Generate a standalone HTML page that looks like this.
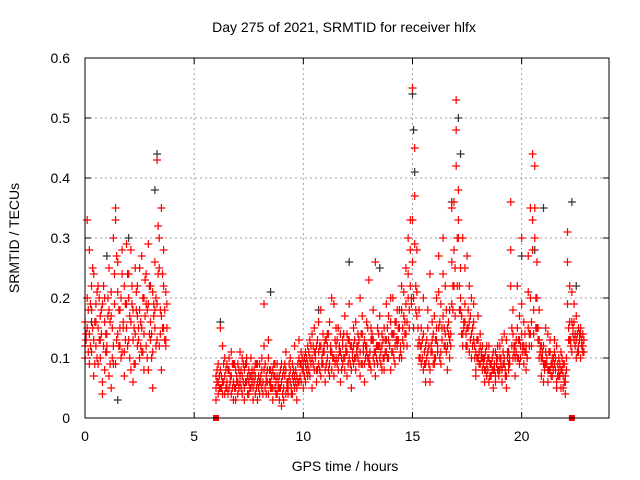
<!DOCTYPE html>
<html><head><meta charset="utf-8"><style>
html,body{margin:0;padding:0;background:#fff}
svg{display:block;font-family:"Liberation Sans",sans-serif}
</style></head><body>
<svg id="chart" width="640" height="480">
<text x="344" y="32" font-size="14" text-anchor="middle">Day 275 of 2021, SRMTID for receiver hlfx</text>
<text x="345" y="471" font-size="14" text-anchor="middle">GPS time / hours</text>
<text x="19" y="238" font-size="14" text-anchor="middle" transform="rotate(-90 19 238)">SRMTID / TECUs</text>
<g id="grid"></g><g id="axes"></g><g id="marks"></g>
<rect x="85" y="58" width="524" height="360" fill="none" stroke="#000" stroke-width="1"/>
</svg>
<script>
const xTicks=[0,5,10,15,20];
const yTicks=[0,0.1,0.2,0.3,0.4,0.5,0.6];
const yTickLabels=["0","0.1","0.2","0.3","0.4","0.5","0.6"];
const hours=[0,0.1,0.2,0.3,0.4,0.5,0.6,0.7,0.8,0.9,1,1.1,1.2,1.3,1.4,1.5,1.6,1.7,1.8,1.9,2,2.1,2.2,2.3,2.4,2.5,2.6,2.7,2.8,2.9,3,3.1,3.2,3.3,3.4,3.5,3.6,3.7,
6,6.1,6.2,6.3,6.4,6.5,6.6,6.7,6.8,6.9,7,7.1,7.2,7.3,7.4,7.5,7.6,7.7,7.8,7.9,8,8.1,8.2,8.3,8.4,8.5,8.6,8.7,8.8,8.9,9,9.1,9.2,9.3,9.4,9.5,9.6,9.7,9.8,9.9,10,
10.1,10.2,10.3,10.4,10.5,10.6,10.7,10.8,10.9,11,11.1,11.2,11.3,11.4,11.5,11.6,11.7,11.8,11.9,12,12.1,12.2,12.3,12.4,12.5,12.6,12.7,12.8,12.9,13,13.1,13.2,13.3,13.4,13.5,13.6,13.7,13.8,13.9,14,14.1,14.2,14.3,14.4,14.5,14.6,14.7,14.8,14.9,
15,15.1,15.2,15.3,15.4,15.5,15.6,15.7,15.8,15.9,16,16.1,16.2,16.3,16.4,16.5,16.6,16.7,16.8,16.9,17,17.1,17.2,17.3,17.4,17.5,17.6,17.7,17.8,17.9,18,18.1,18.2,18.3,18.4,18.5,18.6,18.7,18.8,18.9,19,19.1,19.2,19.3,19.4,19.5,19.6,19.7,19.8,19.9,20,20.1,20.2,20.3,20.4,20.5,20.6,20.7,20.8,20.9,21,21.1,21.2,21.3,21.4,21.5,21.6,21.7,21.8,21.9,22,22.1,22.2,22.3,22.4,22.5,22.6,22.7,22.8];
const redA=[.12,.15,.28,.18,.13,.16,.22,.10,.19,.08,.14,.25,.17,.12,.33,.21,.15,.28,.11,.19,.24,.16,.13,.09,.22,.18,.27,.14,.12,.19,.16,.21,.15,.43,.30,.17,.22,.21,
.05,.06,.08,.04,.07,.09,.05,.11,.06,.08,.04,.07,.10,.05,.06,.08,.05,.07,.04,.06,.09,.05,.19,.07,.04,.06,.08,.05,.07,.03,.06,.05,.08,.04,.06,.09,.05,.07,.10,.06,.08,
.09,.12,.07,.10,.15,.08,.11,.18,.09,.13,.10,.16,.08,.19,.12,.10,.14,.09,.17,.11,.13,.08,.12,.16,.10,.20,.09,.13,.11,.23,.15,.10,.26,.12,.17,.14,.10,.19,.13,.16,.20,.12,.18,.15,.22,.17,.25,.30,.33,
.55,.37,.28,.18,.12,.20,.09,.15,.24,.11,.17,.13,.27,.19,.30,.22,.12,.18,.35,.28,.53,.38,.25,.30,.19,.27,.16,.20,.13,.11,.17,.14,.10,.08,.12,.06,.09,.11,.07,.10,.08,.13,.09,.07,.11,.36,.14,.10,.22,.13,.30,.16,.11,.27,.20,.44,.35,.26,.18,.12,.09,.15,.08,.11,.07,.13,.06,.10,.08,.05,.07,.31,.22,.16,.19,.13,.15,.14,.12];
const redB=[.10,.20,.14,.11,.24,.12,.09,.17,.06,.20,.12,.07,.21,.30,.09,.14,.18,.11,.22,.29,.13,.08,.18,.25,.12,.10,.15,.20,.24,.08,.13,.11,.26,.19,.12,.35,.15,.13,
.03,.09,.05,.12,.04,.06,.10,.07,.03,.05,.09,.06,.04,.08,.10,.04,.07,.05,.09,.03,.06,.08,.12,.04,.10,.05,.03,.07,.09,.05,.02,.08,.04,.06,.10,.04,.07,.03,.06,.11,.09,
.06,.09,.13,.05,.08,.12,.16,.07,.11,.06,.14,.09,.20,.07,.10,.15,.06,.12,.08,.14,.10,.05,.15,.08,.12,.07,.14,.09,.16,.10,.08,.13,.07,.15,.10,.12,.08,.13,.10,.20,.14,.09,.12,.18,.10,.21,.14,.20,.28,
.33,.45,.21,.13,.09,.14,.06,.11,.08,.16,.09,.20,.15,.11,.24,.14,.08,.13,.19,.36,.48,.30,.18,.14,.25,.12,.22,.10,.16,.08,.13,.09,.12,.06,.09,.10,.07,.05,.11,.08,.12,.06,.10,.13,.09,.28,.10,.07,.15,.09,.19,.12,.08,.21,.14,.33,.42,.20,.13,.10,.06,.11,.14,.08,.10,.09,.12,.07,.05,.09,.06,.26,.16,.21,.13,.17,.11,.10,.14];
const redC=[.16,.33,.09,.22,.07,.19,.15,.13,.04,.16,.11,.18,.05,.09,.35,.26,.12,.24,.07,.15,.20,.28,.06,.14,.17,.25,.11,.08,.19,.29,.22,.05,.18,.13,.25,.08,.28,.12,
.07,.04,.15,.06,.10,.05,.08,.04,.09,.03,.06,.11,.07,.03,.09,.06,.10,.03,.07,.09,.04,.10,.08,.06,.13,.08,.05,.09,.04,.07,.09,.03,.11,.05,.08,.07,.12,.05,.13,.09,.05,
.11,.07,.10,.14,.11,.06,.09,.12,.14,.08,.12,.07,.11,.10,.15,.08,.11,.13,.10,.07,.19,.12,.09,.10,.14,.11,.17,.06,.12,.09,.13,.18,.11,.09,.12,.08,.15,.11,.17,.08,.11,.16,.13,.10,.18,.12,.19,.24,.22,
.26,.29,.17,.10,.15,.08,.12,.18,.06,.13,.10,.15,.21,.09,.17,.12,.15,.10,.26,.22,.42,.33,.20,.12,.16,.15,.11,.14,.19,.07,.10,.12,.08,.10,.07,.12,.09,.08,.06,.12,.10,.08,.14,.05,.08,.22,.18,.12,.10,.17,.14,.09,.12,.15,.35,.28,.30,.15,.10,.07,.12,.09,.06,.13,.09,.11,.05,.08,.11,.07,.04,.19,.13,.11,.16,.10,.12,.15,.11];
const redD=[.13,.18,.12,.25,.16,.10,.20,.14,.22,.11,.17,.09,.15,.19,.27,.12,.20,.16,.13,.24,.10,.19,.15,.21,.13,.16,.11,.23,.18,.14,.10,.17,.20,.32,.14,.24,.18,.15,
.06,.05,.07,.09,.05,.08,.06,.05,.09,.07,.05,.08,.06,.09,.04,.07,.06,.08,.05,.07,.06,.04,.09,.06,.08,.05,.07,.06,.05,.08,.04,.07,.06,.09,.05,.08,.06,.09,.07,.10,.07,
.10,.08,.12,.09,.11,.13,.08,.10,.12,.09,.14,.11,.10,.13,.09,.12,.10,.14,.11,.09,.12,.10,.13,.11,.09,.14,.12,.10,.15,.11,.13,.09,.12,.14,.11,.10,.13,.15,.12,.11,.14,.16,.13,.12,.15,.14,.16,.18,.20,
.20,.22,.15,.12,.10,.11,.13,.09,.12,.14,.10,.11,.16,.13,.15,.18,.14,.12,.22,.17,.30,.22,.17,.15,.14,.18,.13,.15,.12,.10,.11,.10,.09,.11,.08,.09,.10,.08,.09,.07,.10,.09,.08,.11,.10,.15,.12,.11,.13,.10,.12,.11,.10,.14,.12,.18,.20,.15,.12,.11,.09,.10,.08,.09,.10,.08,.09,.07,.08,.09,.10,.15,.13,.14,.12,.14,.13,.12,.13];
const redE=[.14,.11,.19,.15,.09,.21,.13,.18,.12,.14,.20,.16,.10,.24,.13,.18,.10,.15,.19,.12,.17,.22,.09,.18,.15,.12,.20,.17,.10,.22,.14,.19,.12,.24,.18,.15,.13,.19,
.08,.07,.05,.06,.08,.04,.07,.09,.05,.06,.08,.05,.09,.06,.07,.05,.08,.06,.09,.05,.07,.06,.05,.08,.06,.07,.09,.04,.06,.05,.07,.09,.05,.07,.04,.06,.08,.06,.09,.08,.10,
.08,.11,.09,.12,.10,.08,.12,.09,.11,.13,.08,.12,.10,.09,.13,.11,.08,.10,.12,.13,.09,.11,.10,.12,.13,.09,.11,.12,.10,.09,.14,.11,.10,.12,.09,.13,.11,.10,.12,.14,.10,.13,.15,.11,.13,.16,.12,.15,.19,
.15,.18,.12,.10,.13,.09,.10,.12,.11,.09,.13,.12,.10,.15,.12,.11,.16,.14,.18,.25,.22,.18,.14,.16,.12,.15,.17,.12,.10,.13,.09,.11,.10,.08,.10,.07,.08,.09,.10,.08,.09,.11,.07,.10,.09,.12,.11,.13,.10,.12,.11,.14,.10,.12,.16,.14,.15,.13,.11,.10,.08,.09,.11,.07,.08,.10,.07,.09,.10,.06,.08,.13,.12,.15,.14,.11,.14,.13,.11];
const blackHours=[0.3,1.0,1.5,2.0,3.2,3.3,6.2,8.5,10.7,12.1,13.5,15.0,15.05,15.1,16.8,17.1,17.2,20.0,20.6,21.0,22.3,22.5];
const blackVals=[.16,.27,.03,.30,.38,.44,.16,.21,.18,.26,.25,.54,.48,.41,.36,.50,.44,.27,.28,.35,.36,.22];
const zeroHours=[6.0,22.3];
const zeroVals=[0,0];

const X0=85,X1=609,Y0=418,Y1=58;
const xs=h=>X0+(h/24)*(X1-X0);
const ys=v=>Y0-(v/0.6)*(Y0-Y1);
const NS="http://www.w3.org/2000/svg";
const grid=document.getElementById('grid'),axes=document.getElementById('axes'),marks=document.getElementById('marks');
function mk(tag,attrs,parent){const e=document.createElementNS(NS,tag);for(const k in attrs)e.setAttribute(k,attrs[k]);parent.appendChild(e);return e;}
xTicks.forEach(t=>{
  const x=xs(t);
  if(t>0){const g=mk('line',{x1:x,x2:x,y1:Y1,y2:Y0,stroke:'#a0a0a0','stroke-dasharray':'2,3'},grid);
  
  }
  const tk=mk('path',{d:`M${x},${Y0}v-6M${x},${Y1}v6`,stroke:'#000'},axes);
  
  
  const l=mk('text',{x:x,y:Y0+23,'font-size':14,'text-anchor':'middle'},axes);l.textContent=String(t);
  
  
});
yTicks.forEach((t,i)=>{
  const y=ys(t);
  if(t>0&&t<0.6){const g=mk('line',{x1:X0,x2:X1,y1:y,y2:y,stroke:'#a0a0a0','stroke-dasharray':'2,3'},grid);
  
  }
  const tk=mk('path',{d:`M${X0},${y}h6M${X1},${y}h-6`,stroke:'#000'},axes);
  
  
  const l=mk('text',{x:X0-15,y:y+5,'font-size':14,'text-anchor':'end'},axes);l.textContent=yTickLabels[i];
  
  
});
function plus(h,v,color,name){
  const x=xs(h),y=ys(v);
  const p=mk('path',{d:`M${x-4},${y}h8M${x},${y-4}v8`,stroke:color,'stroke-width':1.2},marks);
  
  
}
blackHours.forEach((h,i)=>plus(h,blackVals[i],'#333','black-point'));
[redA,redB,redC].forEach(arr=>{
  const n=Math.min(arr.length,hours.length);
  for(let i=0;i<n;i++)plus(hours[i],arr[i],'#ff0000','red-point');
});
[redD,redE].forEach(arr=>{
  const n=Math.min(arr.length,hours.length);
  for(let i=0;i<n;i++)plus(hours[i]+0.05,arr[i],'#ff0000','red-point');
});
zeroHours.forEach((h,i)=>{
  const r=mk('rect',{x:xs(h)-3,y:ys(zeroVals[i])-3,width:6,height:6,fill:'#ff0000'},marks);
  
  
});
</script>
</body></html>
